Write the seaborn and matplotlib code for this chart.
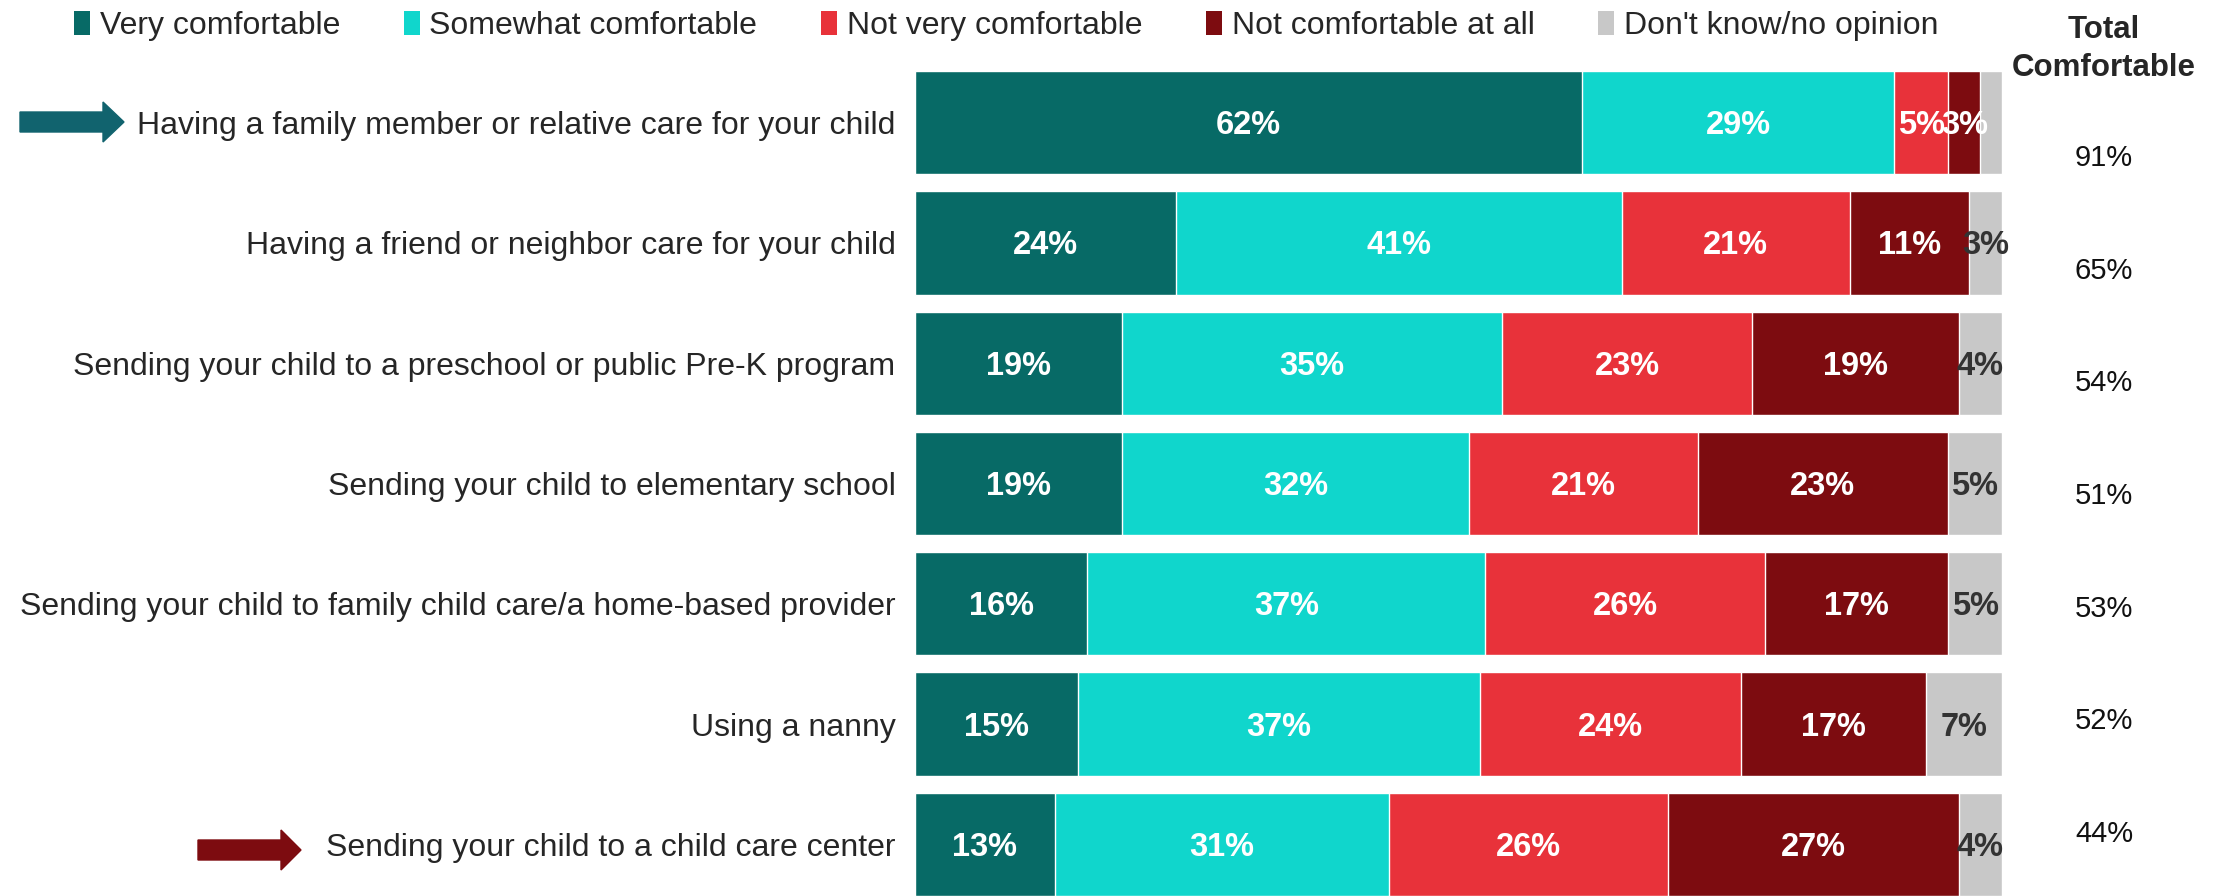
import numpy as np
import pandas as pd
import matplotlib
matplotlib.use("Agg")
import matplotlib.pyplot as plt
from matplotlib.patches import Patch, FancyArrow
import seaborn as sns

categories = [
    "Having a family member or relative care for your child",
    "Having a friend or neighbor care for your child",
    "Sending your child to a preschool or public Pre-K program",
    "Sending your child to elementary school",
    "Sending your child to family child care/a home-based provider",
    "Using a nanny",
    "Sending your child to a child care center",
]
series = ["Very comfortable", "Somewhat comfortable", "Not very comfortable",
          "Not comfortable at all", "Don't know/no opinion"]
very = [62, 24, 19, 19, 16, 15, 13]
somewhat = [29, 41, 35, 32, 37, 37, 31]
not_very = [5, 21, 23, 21, 26, 24, 26]
not_at_all = [3, 11, 19, 23, 17, 17, 27]
dont_know = [2, 3, 4, 5, 5, 7, 4]
total_comfortable = [91, 65, 54, 51, 53, 52, 44]

colors = ["#076A66", "#10D6CC", "#E8323A", "#7D0C10", "#C8C8C8"]
label_colors = ["white", "white", "white", "white", "#333333"]

sns.set_style("white")
plt.rcParams['font.family'] = ['Liberation Sans', 'DejaVu Sans']

vals = np.array([very, somewhat, not_very, not_at_all, dont_know], dtype=float).T
shares = vals / vals.sum(axis=1, keepdims=True) * 100
cum = np.cumsum(shares, axis=1)

fig = plt.figure(figsize=(22.28, 8.96), dpi=100)
ax = fig.add_axes([915 / 2228, 0, (2002 - 915) / 2228, 1 - 71 / 896])

# draw cumulative bars from the longest down so each segment shows
for k in range(len(series) - 1, -1, -1):
    df = pd.DataFrame({"cat": categories, "x": cum[:, k]})
    sns.barplot(data=df, x="x", y="cat", color=colors[k], width=0.86,
                saturation=1, ax=ax, orient="h")

for i in range(len(categories)):
    for k in range(len(series)):
        v = vals[i, k]
        if k == 4 and i == 0:
            continue  # no label on the thin sliver
        xc = cum[i, k] - shares[i, k] / 2
        ax.text(xc, i + 0.025, f"{int(v)}%", ha="center", va="center",
                color=label_colors[k], fontsize=23.5, fontweight="bold")

ax.set_xlim(0, 100)
ax.set_ylim(len(categories) - 0.57, -0.43)
ax.set_xlabel("")
ax.set_ylabel("")
ax.set_xticks([])
ax.tick_params(axis="y", length=0, pad=14, labelsize=23, labelcolor="#262626")
sns.despine(ax=ax, left=True, bottom=True)

# total comfortable column
fig.text(2104 / 2228, 1 - 30 / 896, "Total", ha="center", va="center",
         fontsize=22.5, fontweight="bold", color="#262626")
fig.text(2104 / 2228, 1 - 68 / 896, "Comfortable", ha="center", va="center",
         fontsize=22.5, fontweight="bold", color="#262626")
ypix = np.linspace(158, 834, len(total_comfortable))
for yp, t in zip(ypix, total_comfortable):
    fig.text(2104 / 2228, 1 - yp / 896, f"{t}%", ha="center", va="center",
             fontsize=21, color="#111111")

# legend
handles = [Patch(facecolor=c, edgecolor="none") for c in colors]
fig.legend(handles, series, loc="center left", bbox_to_anchor=(58 / 2228, 1 - 26 / 896),
           ncol=5, frameon=False, fontsize=23, handlelength=0.5, handleheight=0.75,
           handletextpad=0.3, columnspacing=2.0, borderpad=0, labelcolor="#262626")

# arrows
fig.patches.append(FancyArrow(20 / 2228, 1 - 122 / 896, 104 / 2228, 0, width=20 / 896,
                              head_width=40 / 896, head_length=21 / 2228,
                              length_includes_head=True, color="#11636E",
                              transform=fig.transFigure, figure=fig))
fig.patches.append(FancyArrow(198 / 2228, 1 - 850 / 896, 103 / 2228, 0, width=20 / 896,
                              head_width=40 / 896, head_length=20 / 2228,
                              length_includes_head=True, color="#7D0C10",
                              transform=fig.transFigure, figure=fig))

fig.savefig("out.png", dpi=100)
